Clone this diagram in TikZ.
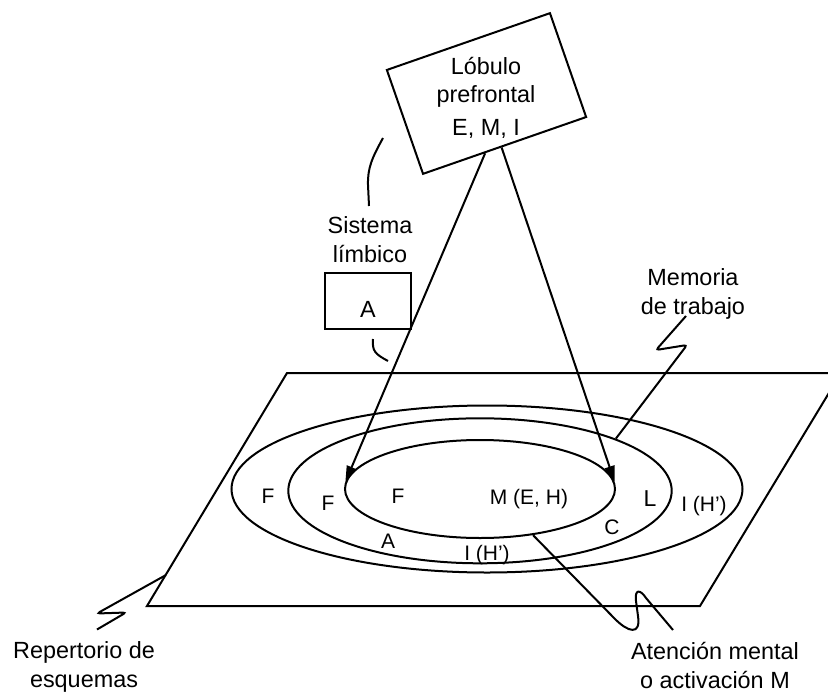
\documentclass[tikz,border=0pt]{standalone}
\usepackage{fontspec}
\setmainfont{Liberation Sans}
\usetikzlibrary{shapes.geometric,arrows.meta,calc}
\begin{document}
\begin{tikzpicture}[x=1bp,y=-1bp,
  line width=2bp,
  lbl/.style={font=\fontsize{23.4bp}{29bp}\selectfont, align=center, inner sep=0pt},
  zone/.style={font=\fontsize{21bp}{25bp}\selectfont, inner sep=0pt, anchor=base},
  ring/.style={draw, ellipse, inner sep=0pt},
  box/.style={draw, rectangle, inner sep=0pt},
  pointer/.style={-{Triangle[length=16bp,width=10bp]}},
  lead/.style={rounded corners=3bp},
]
\useasboundingbox (0,0) rectangle (828,693);
\clip (0,0) rectangle (828,693);

% plane of the schemes repertoire
\draw[line join=miter] (287,373) -- (841,373) -- (700,606) -- (147,606) -- cycle;
\coordinate (rep-edge) at (166,575);

% nested fields: repertoire, working memory, mental attention
\node[ring, minimum width=511bp, minimum height=167bp] (outer) at (487,489) {};
\node[ring, minimum width=383.4bp, minimum height=145bp] (mid) at (480,490.8) {};
\node[ring, minimum width=270bp, minimum height=98bp] (inn) at (480,489) {};

% prefrontal lobe
\node[box, rotate=19.2, minimum width=172.7bp, minimum height=110bp] (lob) at (486.5,93.5) {};
\node[lbl, font=\fontsize{23.4bp}{28bp}\selectfont] (lobtxt) at (486,97.6) {Lóbulo\\prefrontal\\[5bp]E, M, I};

% limbic system
\node[box, minimum width=86bp, minimum height=56bp] (lim) at (368,301) {};
\node[lbl, anchor=base] (limA) at (368,317) {A};
\node[lbl] (limtxt) at (370,239.5) {Sistema\\límbico};

% outer captions
\node[lbl] (mem) at (693,293.5) {Memoria\\de trabajo};
\node[lbl] (rep) at (84,667) {Repertorio de\\esquemas};
\node[lbl] (aten) at (715,665) {Atención mental\\o activación M};

% labels inside the fields
\node[zone] (fo) at (268,503) {F};
\node[zone] (fm) at (328,510.7) {F};
\node[zone] (fi) at (398,503) {F};
\node[zone] (meh) at (529,504) {M (E, H)};
\node[zone] (cc) at (612,534) {C};
\node[zone] (aa) at (388,548) {A};
\node[zone] (ih) at (487,560) {I (H’)};
\node[zone, font=\fontsize{23bp}{28bp}\selectfont] (ll) at (650,506.5) {L};
\node[zone] (ihr) at (704,511.5) {I (H’)};

% executive arrows
\draw[pointer] ($(lob.south)!0.24!(lob.south west)$) -- (inn.177);
\draw[pointer] ($(lob.south)!0.04!(lob.south west)$) -- (inn.3);

% leader lines
\draw (383,138) .. controls (372,158) and (367.5,168) .. (368,185) -- (369,206);
\draw (373,339) .. controls (372,351) and (375,354) .. (388,361);
\draw[lead] (686,316) -- (656,350) -- (687,345) -- (mid.21.4);
\draw[lead] (rep-edge) -- (97,613.5) -- (126,612.5) -- (97,629.5);
\draw (inn.-41) -- (615,619) .. controls (628,632) and (641,636) .. (638,616)
  -- (636,601) .. controls (634.5,589) and (640,589) .. (646,598) -- (673,630);
\end{tikzpicture}
\end{document}
